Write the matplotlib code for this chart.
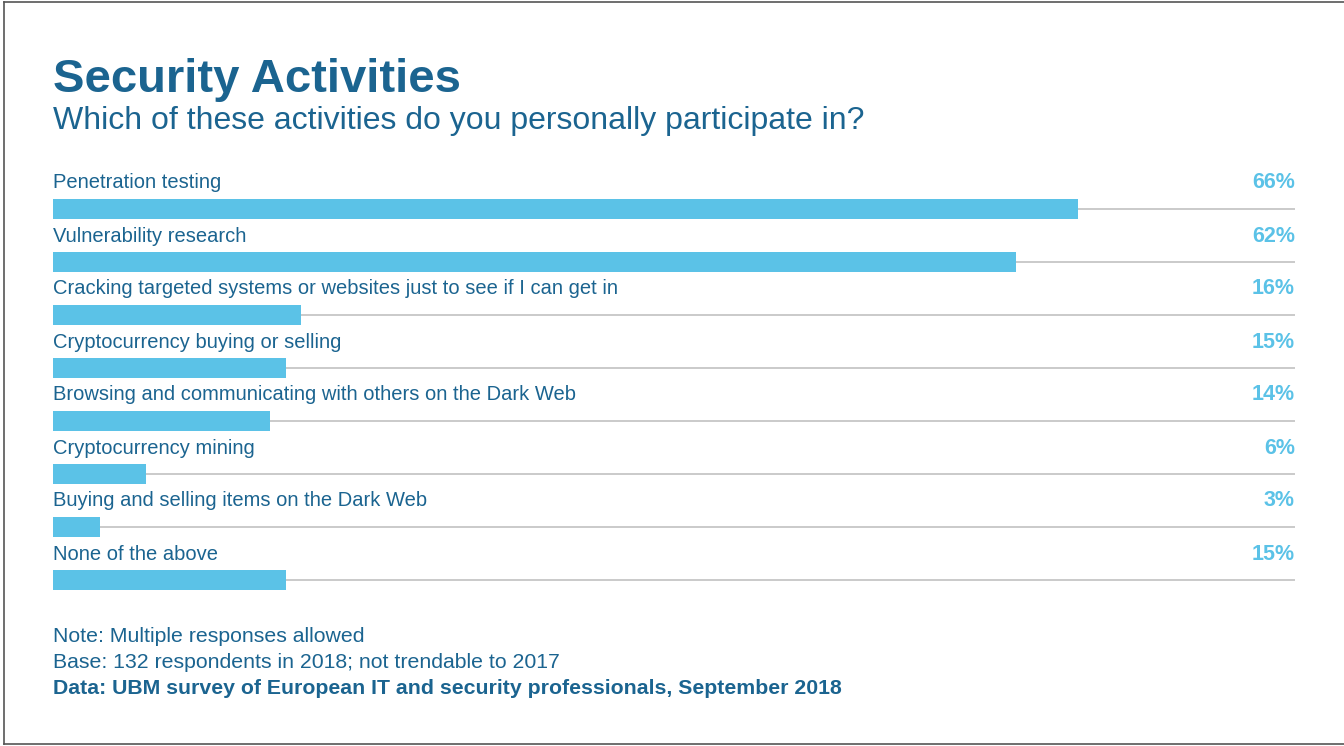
import matplotlib
matplotlib.use("Agg")
import matplotlib.pyplot as plt
from matplotlib.lines import Line2D

plt.rcParams['font.family'] = ['Liberation Sans', 'DejaVu Sans']

categories = [
    "Penetration testing",
    "Vulnerability research",
    "Cracking targeted systems or websites just to see if I can get in",
    "Cryptocurrency buying or selling",
    "Browsing and communicating with others on the Dark Web",
    "Cryptocurrency mining",
    "Buying and selling items on the Dark Web",
    "None of the above",
]
values = [66, 62, 16, 15, 14, 6, 3, 15]

notes = [
    "Note: Multiple responses allowed",
    "Base: 132 respondents in 2018; not trendable to 2017",
]
source = "Data: UBM survey of European IT and security professionals, September 2018"

DARK = "#1b6490"
BAR = "#5bc2e7"
GRID = "#c6c6c6"

W, H = 1344, 746
fig = plt.figure(figsize=(W / 100, H / 100), dpi=100)

# frame on left, top and bottom only
for xs, ys in [([4, 4], [2, 744]), ([4, W], [2, 2]), ([4, W], [744, 744])]:
    fig.add_artist(Line2D([x / W for x in xs], [1 - y / H for y in ys],
                          color="#555555", lw=1.2, transform=fig.transFigure))

fig.text(53 / W, 1 - 92 / H, "Security Activities", fontsize=34, fontweight="bold",
         color=DARK, va="baseline")
fig.text(53 / W, 1 - 129 / H, "Which of these activities do you personally participate in?",
         fontsize=23, color=DARK, va="baseline")

# axes spans bar area in pixels
top_px, bot_px = 150, 606
ax = fig.add_axes([53 / W, 1 - bot_px / H, (1295 - 53) / W, (bot_px - top_px) / H])
row = 53.0
first = 209
ax.set_xlim(0, 80)
ax.set_ylim((bot_px - first) / row, -(first - top_px) / row)
ax.axis("off")

for i, (cat, v) in enumerate(zip(categories, values)):
    ax.plot([0, 80], [i, i], color=GRID, lw=1.3, zorder=1, solid_capstyle="butt")
    ax.barh(i, v, height=20 / row, color=BAR, zorder=2, left=0)
    ax.text(0, i - 26 / row, cat, fontsize=14.5, color=DARK, va="center", ha="left")
    ax.text(80, i - 26 / row, f"{v}%", fontsize=15.5, color=BAR, fontweight="bold",
            va="center", ha="right")

for k, line in enumerate(notes):
    fig.text(53 / W, 1 - (637 + 25.5 * k) / H, line, fontsize=15.3, color=DARK, va="center")
fig.text(53 / W, 1 - 689 / H, source, fontsize=15.3, color=DARK, fontweight="bold", va="center")

fig.savefig("out.png", dpi=100)
